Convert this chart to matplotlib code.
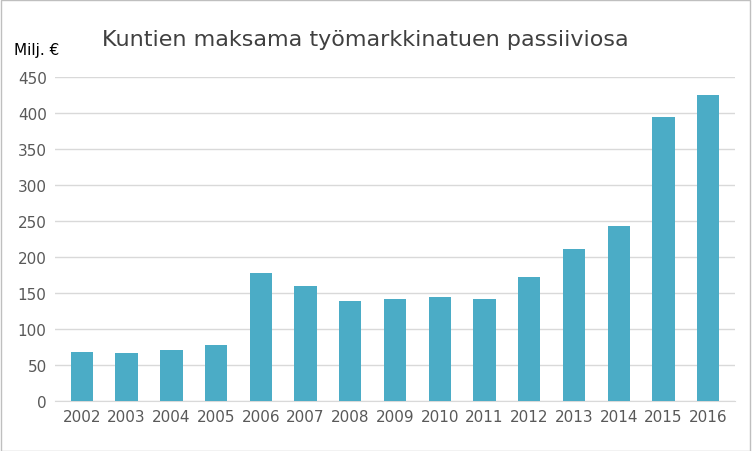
import matplotlib
matplotlib.use("Agg")
import matplotlib.pyplot as plt
from matplotlib.patches import Rectangle

years = ["2002","2003","2004","2005","2006","2007","2008","2009","2010","2011","2012","2013","2014","2015","2016"]
values = [68, 67, 71, 78, 178, 160, 139, 142, 144, 142, 172, 211, 243, 394, 425]
yticks = [0, 50, 100, 150, 200, 250, 300, 350, 400, 450]

fig = plt.figure(figsize=(7.52, 4.52), dpi=100)
ax = fig.add_axes([55/752, 1-402/452, 680/752, 324/452])
ax.bar(range(len(years)), values, width=0.5, color="#4BACC6", zorder=3)
ax.set_xlim(-0.6, len(years)-0.4)
ax.set_ylim(0, 450)
ax.set_yticks(yticks)
ax.set_xticks(range(len(years)))
ax.set_xticklabels(years)
ax.grid(axis="y", color="#D9D9D9", linewidth=1, zorder=0)
for s in ["top", "right", "left"]:
    ax.spines[s].set_visible(False)
ax.spines["bottom"].set_color("#D9D9D9")
ax.tick_params(length=0, labelsize=11, colors="#595959", pad=6)
fig.text(102/752, 1-40/452, "Kuntien maksama työmarkkinatuen passiiviosa", fontsize=16, color="#404040", va="center")
fig.text(14/752, 1-50/452, "Milj. €", fontsize=11, color="#000000", va="center")
fig.patches.append(Rectangle((0.001, 0.001), 0.997, 0.997, transform=fig.transFigure, fill=False, edgecolor="#BFBFBF", linewidth=1))
fig.savefig("out.png", dpi=100)
